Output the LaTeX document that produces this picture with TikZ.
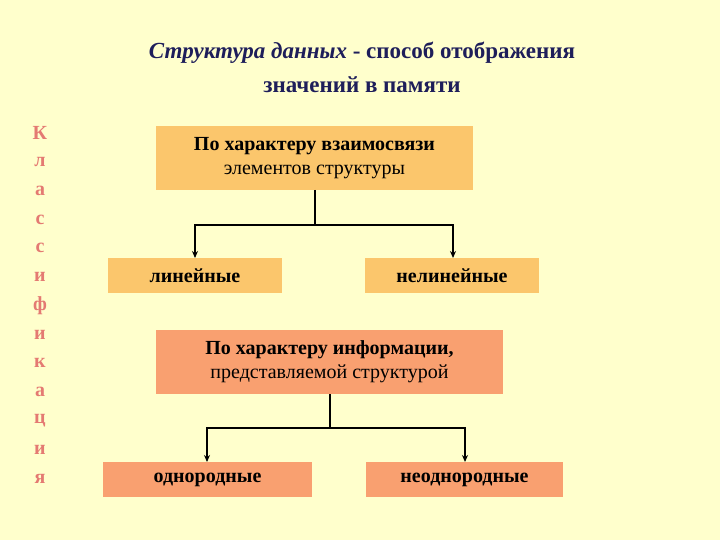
\documentclass[tikz,border=0pt]{standalone}
\usepackage{fontspec}
\setmainfont{Liberation Serif}
\usetikzlibrary{arrows.meta}
\definecolor{bg}{HTML}{FFFFCC}
\definecolor{boxA}{HTML}{FBC66C}
\definecolor{boxB}{HTML}{F9A070}
\definecolor{titlec}{HTML}{1E1E5A}
\definecolor{letc}{HTML}{E47A72}
\tikzset{
  boxy/.style={fill=#1, inner sep=0pt, anchor=north west},
  lab/.style={font=\fontsize{20}{24}\selectfont\bfseries, align=center},
  conn/.style={line width=1.3pt, -{Stealth[length=7pt,width=6pt]}},
  letter/.style={text=letc, font=\fontsize{20}{22}\selectfont\bfseries}
}
\begin{document}
\begin{tikzpicture}[x=1pt,y=-1pt]
\fill[bg] (0,0) rectangle (720,540);
\useasboundingbox (0,0) rectangle (720,540);
\node[titlec, font=\fontsize{23}{34}\selectfont\bfseries, align=center] (t) at (362,67)
  {\textit{Структура данных} - способ отображения\\значений в памяти};
% boxes
\fill[boxA] (156,126) rectangle (473,190);
\node[lab] (b1) at (314.5,158) {По характеру взаимосвязи\\\mdseries элементов структуры};
\fill[boxA] (108,258) rectangle (282,293);
\node[lab] (lin) at (195,275.5) {линейные};
\fill[boxA] (365,258) rectangle (539,293);
\node[lab] (nlin) at (452,275.5) {нелинейные};
\fill[boxB] (156,330) rectangle (503,394);
\node[lab] (b2) at (329.5,362) {По характеру информации,\\\mdseries представляемой структурой};
\fill[boxB] (103,462) rectangle (312,497);
\node[lab] (hom) at (207.5,479.5) {однородные};
\fill[boxB] (366,462) rectangle (563,497);
\node[lab] (het) at (464.5,479.5) {неоднородные};
\coordinate (c1) at (315,190); \coordinate (c1l) at (195,225); \coordinate (c1r) at (453,225);
\coordinate (l1) at (195,258); \coordinate (r1) at (453,258);
\draw[line width=1.3pt] (c1) -- (315,225);
\draw[conn] (315,225) -| (l1);
\draw[conn] (315,225) -| (r1);
\coordinate (c2) at (330,394); \coordinate (l2) at (207,462); \coordinate (r2) at (465,462);
\draw[line width=1.3pt] (c2) -- (330,428);
\draw[conn] (330,428) -| (l2);
\draw[conn] (330,428) -| (r2);
% vertical word
\foreach \ch [count=\i from 0] in {К,л,а,с,с,и,ф,и,к,а,ц,и,я}
  \node[letter] (v\i) at (40,133+28.8*\i) {\ch};
\end{tikzpicture}
\end{document}
